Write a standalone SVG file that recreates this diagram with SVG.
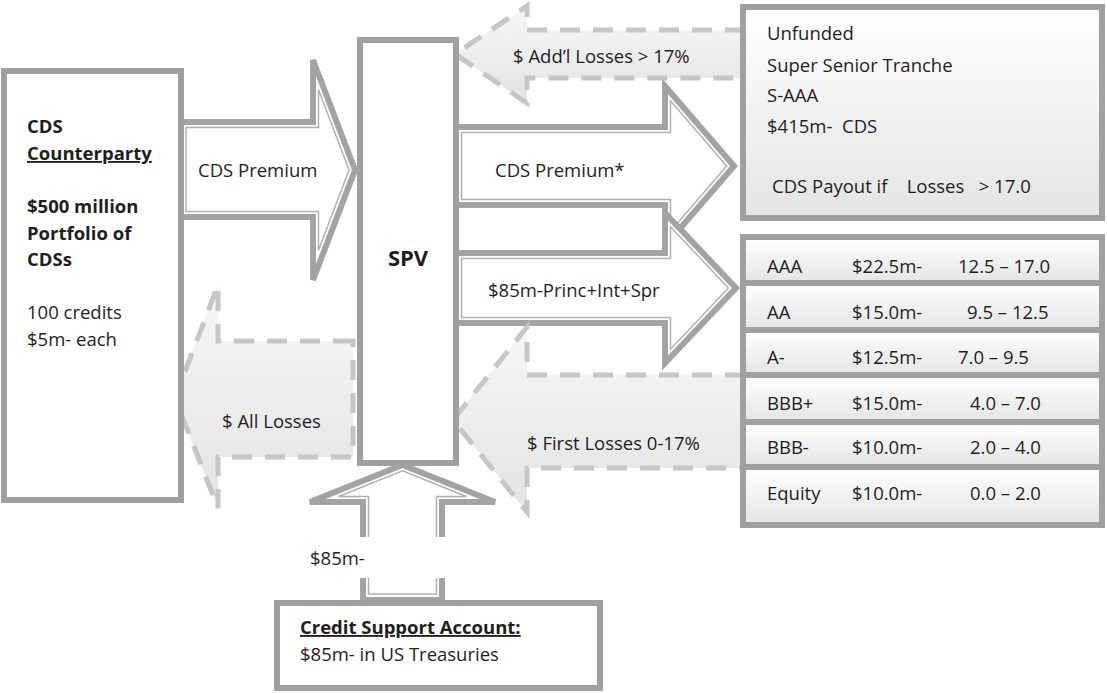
<svg xmlns="http://www.w3.org/2000/svg" width="1107" height="693" viewBox="0 0 1107 693">
<style>
.box{fill:#fff;stroke:#a0a0a0;stroke-width:6}
.gbox{fill:url(#bg);stroke:#a0a0a0;stroke-width:6}
.arr{fill:#fff;stroke:#a3a3a3;stroke-width:6}
.arri{fill:none;stroke:#b0b0b0;stroke-width:1.5}
.dash{fill:url(#dg);stroke:#c6c6c6;stroke-width:5;stroke-dasharray:20 13}
.t{font-family:"Open Sans","Liberation Sans",sans-serif;font-size:18.5px;fill:#1e1e1e}
.b{font-weight:bold}
.u{text-decoration:underline}
</style>
<defs>
<linearGradient id="bg" x1="0" y1="0" x2="0" y2="1"><stop offset="0" stop-color="#ffffff"/><stop offset="1" stop-color="#e4e4e4"/></linearGradient>
<linearGradient id="dg" x1="0" y1="0" x2="0" y2="1"><stop offset="0" stop-color="#f7f7f7"/><stop offset="1" stop-color="#e3e3e3"/></linearGradient>
</defs>
<g id="connectors">
<g id="arrow-cds-premium-in">
<polygon class="arr" points="179,122 313,122 313,60 355,170 313,280 313,217 179,217"/>
<polygon class="arri" points="186,127.5 318.5,127.5 318.5,89.8 349.1,170 318.5,250.2 318.5,211.5 186,211.5"/>
</g>
<g id="arrow-cds-premium-out">
<polygon class="arr" points="456,127 665,127 665,86 734,166 665,246 665,205 456,205"/>
<polygon class="arri" points="461.5,132.5 670.5,132.5 670.5,100.8 726.7,166 670.5,231.2 670.5,199.5 461.5,199.5"/>
</g>
<g id="arrow-princ">
<polygon class="arr" points="456,253 665,253 665,213 736,288 665,363 665,323 456,323"/>
<polygon class="arri" points="461.5,258.5 670.5,258.5 670.5,226.8 728.4,288 670.5,349.2 670.5,317.5 461.5,317.5"/>
</g>
<g id="arrow-credit-support">
<polygon class="arr" points="363,600 363,502 310,502 402.5,465 495,502 442,502 442,600"/>
<polygon class="arri" points="368.5,594 368.5,496.5 338.6,496.5 402.5,470.9 466.4,496.5 436.5,496.5 436.5,594"/>
<rect x="355" y="537" width="95" height="41" fill="#fff"/>
</g>
<g id="arrow-addl-losses">
<polygon class="dash" points="745,30 527,30 527,6 455,54 527,103 527,78 745,78"/>
</g>
<g id="arrow-all-losses">
<polygon class="dash" points="353,341 218,341 218,285 175,398 218,508 218,457 353,457"/>
</g>
<g id="arrow-first-losses">
<polygon class="dash" points="745,375 527,375 527,327 453,420 527,512 527,468 745,468"/>
</g>
</g>
<g id="counterparty">
<rect class="box" x="4" y="71" width="177" height="429"/>
<text class="t b" x="27" y="133">CDS</text>
<text class="t b u" x="27" y="160">Counterparty</text>
<text class="t b" x="27" y="213">$500 million</text>
<text class="t b" x="27" y="240">Portfolio of</text>
<text class="t b" x="27" y="266">CDSs</text>
<text class="t" x="27" y="319">100 credits</text>
<text class="t" x="27" y="346">$5m- each</text>
</g>
<g id="spv">
<rect class="box" x="360" y="40" width="96" height="423"/>
<text class="t b" x="408" y="266" text-anchor="middle" style="font-size:22px">SPV</text>
</g>
<g id="labels">
<text class="t" x="198" y="177">CDS Premium</text>
<text class="t" x="513" y="63">$ Add’l Losses &gt; 17%</text>
<text class="t" x="495" y="177">CDS Premium*</text>
<text class="t" x="488" y="297">$85m-Princ+Int+Spr</text>
<text class="t" x="222" y="428">$ All Losses</text>
<text class="t" x="527" y="450">$ First Losses 0-17%</text>
<text class="t" x="310" y="565">$85m-</text>
</g>
<g id="super-senior">
<rect class="gbox" x="743" y="7" width="359" height="211"/>
<text class="t" x="767" y="40">Unfunded</text>
<text class="t" x="767" y="72">Super Senior Tranche</text>
<text class="t" x="767" y="102">S-AAA</text>
<text class="t" x="767" y="133" xml:space="preserve">$415m-  CDS</text>
<text class="t" x="772" y="193" xml:space="preserve">CDS Payout if    Losses   &gt; 17.0</text>
</g>
<g id="tranches">
<rect class="gbox" x="743" y="237" width="359" height="46"/>
<rect class="gbox" x="743" y="283" width="359" height="47"/>
<rect class="gbox" x="743" y="330" width="359" height="45"/>
<rect class="gbox" x="743" y="375" width="359" height="47"/>
<rect class="gbox" x="743" y="422" width="359" height="45"/>
<rect class="gbox" x="743" y="467" width="359" height="58"/>
<text class="t" x="767" y="273">AAA</text><text class="t" x="852" y="273">$22.5m-</text><text class="t" x="958" y="273">12.5 – 17.0</text>
<text class="t" x="767" y="319">AA</text><text class="t" x="852" y="319">$15.0m-</text><text class="t" x="967" y="319">9.5 – 12.5</text>
<text class="t" x="767" y="364">A-</text><text class="t" x="852" y="364">$12.5m-</text><text class="t" x="958" y="364">7.0 – 9.5</text>
<text class="t" x="767" y="410">BBB+</text><text class="t" x="852" y="410">$15.0m-</text><text class="t" x="970" y="410">4.0 – 7.0</text>
<text class="t" x="767" y="454">BBB-</text><text class="t" x="852" y="454">$10.0m-</text><text class="t" x="970" y="454">2.0 – 4.0</text>
<text class="t" x="767" y="500">Equity</text><text class="t" x="852" y="500">$10.0m-</text><text class="t" x="970" y="500">0.0 – 2.0</text>
</g>
<g id="credit-support">
<rect class="box" x="277" y="603" width="323" height="85"/>
<text class="t b u" x="300" y="634">Credit Support Account:</text>
<text class="t" x="300" y="661">$85m- in US Treasuries</text>
</g>
</svg>
